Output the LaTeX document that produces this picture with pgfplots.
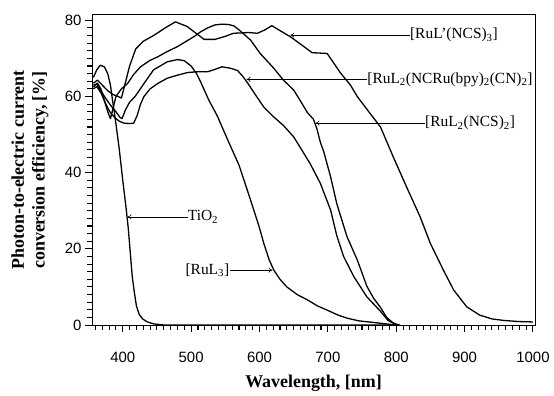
\documentclass[border=0pt]{standalone}
\usepackage{fontspec}
\setmainfont{Liberation Serif}
\newfontfamily\sansf{Liberation Sans}
\usepackage{pgfplots}
\pgfplotsset{compat=1.18}
\usetikzlibrary{arrows.meta}

\begin{document}
\begin{tikzpicture}
\begin{axis}[
  scale only axis, width=443bp, height=310bp,
  xmin=355, xmax=1003, ymin=0, ymax=81.4,
  xtick={400,500,...,1000}, ytick={0,20,...,80},
  tick align=outside, xtick pos=bottom, ytick pos=left,
  major tick length=7bp,
  every tick/.style={black, line width=1pt},
  axis line style={line width=1pt},
  ticklabel style={font=\sansf\fontsize{15}{15}\selectfont},
  xticklabel style={yshift=-17bp},
  /pgf/number format/assume math mode=true,
  /pgf/number format/1000 sep={},
  xlabel={Wavelength, [nm]},
  ylabel={Photon-to-electric current\\conversion efficiency, [\%]},
  xlabel style={font=\bfseries\fontsize{18}{21}\selectfont, at={([yshift=-58bp]axis description cs:0.5,0)}, anchor=center},
  ylabel style={font=\bfseries\fontsize{18}{21}\selectfont, align=center, at={([xshift=-62bp]axis description cs:0,0.5)}, anchor=center},
  clip=false,
  cycle list={{black, solid, no markers}},
  every axis plot/.append style={line width=1.3pt, line join=round},
]
% TiO2
\addplot coordinates {(357,65) (362,67) (367,68.2) (373,67.8) (378,66) (382,63) (385,59) (388,55.5) (391,51.5) (395,46) (400,38) (405,30.5) (408,25.5) (411,19) (414,12.5) (417,8.5) (420,5) (424,2.8) (429,1.6) (436,0.8) (445,0.3) (460,0) (800,0)};
% RuL3
\addplot coordinates {(357,63) (362,63.3) (368,61.5) (375,59.5) (383,57.5) (390,56) (396,54.5) (399,54.2) (404,56.5) (410,58.5) (418,60) (431,63.4) (445,67) (465,69.1) (480,69.7) (490,69.4) (500,68) (508,66) (514,63.8) (526,59) (538,55) (555,48) (570,42) (582,35.5) (592,30) (600,25.5) (606,21.6) (614,17.2) (621,14.4) (630,12) (640,10) (655,8) (670,6.6) (685,5) (699,3.9) (715,2.6) (728,1.8) (745,1.1) (760,0.8) (780,0.4) (800,0)};
% RuL2(NCRu(bpy)2(CN)2)
\addplot coordinates {(357,62) (362,62.6) (368,61) (374,58.5) (381,56) (388,54.5) (395,53.5) (402,53) (410,52.9) (416,53) (421,55) (426,58) (431,60) (440,62) (451,63.4) (465,64.8) (480,65.6) (495,66.3) (510,66.5) (524,66.5) (533,67) (545,67.8) (558,67.4) (568,66.8) (576,65.2) (584,63.2) (592,61) (606,57.3) (621,54.6) (635,52.4) (650,49.4) (660,46.5) (674,42.4) (689,37.2) (704,30.2) (713,23.5) (723,18) (738,12.7) (757,7.4) (767,5.5) (777,3.6) (788,1.2) (798,0.3) (805,0)};
% RuL2(NCS)2
\addplot coordinates {(357,62.5) (363,63.5) (368,62) (373,59) (378,56) (382,54.2) (386,57) (390,60) (398,62) (407,63.4) (416,65.8) (426,67.8) (440,69.5) (451,70.4) (465,71.8) (480,73.1) (492,74.4) (504,75.7) (514,77) (524,78) (535,78.8) (545,79) (555,78.9) (563,78.5) (572,77.2) (587,74.8) (601,71.3) (621,67.4) (635,64.3) (650,61.7) (660,58.8) (670,55.8) (679,54) (684,51.5) (689,48) (694,45.5) (704,38.9) (713,31.9) (728,23.2) (743,17.1) (757,10.2) (767,7) (777,4.6) (786,2) (795,0.6) (800,0.2)};
% RuL'(NCS)3
\addplot coordinates {(357,63.5) (363,64.3) (370,63) (378,61.5) (386,60.5) (393,60) (398,59.6) (403,63) (410,68) (419,72.5) (430,74.5) (445,76) (462,78) (477,79.6) (494,78.4) (508,76.5) (519,75) (535,75) (550,75.8) (562,76.6) (584,76.8) (597,76.6) (608,77.5) (618,78.6) (630,77.3) (645,75.7) (662,73.5) (677,71.5) (699,71.3) (718,66.3) (733,63) (743,60) (762,55.5) (777,52) (796,44) (815,36.3) (835,28.4) (850,21.4) (869,14.4) (884,9.2) (903,4.8) (922,2.6) (940,1.6) (957,1.2) (980,0.9) (1000,0.8)};

% minor ticks
\pgfplotsinvokeforeach{360,370,...,990}{
  \draw[black, line width=1.1pt] (axis cs:#1,0) -- ([yshift=-5bp]axis cs:#1,0);
}
\pgfplotsinvokeforeach{2,4,...,80}{
  \draw[black, line width=1.1pt] (axis cs:355,#1) -- ([xshift=-5bp]axis cs:355,#1);
}

% annotations
\begin{scope}[every node/.style={font=\fontsize{15.5}{16}\selectfont, inner sep=0pt}]
\draw[line width=0.6pt, -{To[length=4pt,width=5pt]}] (axis cs:820,76.1) -- (axis cs:645,76.1);
\node[anchor=west] at (axis cs:820,76.1) {[RuL'(NCS)\textsubscript{3}]};
\draw[line width=0.6pt, -{To[length=4pt,width=5pt]}] (axis cs:757.5,64.5) -- (axis cs:581,64.5);
\node[anchor=west] at (axis cs:757.5,64.5) {[RuL\textsubscript{2}(NCRu(bpy)\textsubscript{2}(CN)\textsubscript{2}]};
\draw[line width=0.6pt, -{To[length=4pt,width=5pt]}] (axis cs:842,53) -- (axis cs:682,53);
\node[anchor=west] at (axis cs:842,53) {[RuL\textsubscript{2}(NCS)\textsubscript{2}]};
\draw[line width=0.6pt, -{To[length=4pt,width=5pt]}] (axis cs:495,28.4) -- (axis cs:407,28.4);
\node[anchor=west] at (axis cs:495,28.4) {TiO\textsubscript{2}};
\draw[line width=0.6pt, -{To[length=4pt,width=5pt]}] (axis cs:557,14.4) -- (axis cs:619,14.4);
\node[anchor=east] at (axis cs:556,14.4) {[RuL\textsubscript{3}]};
\end{scope}
\coordinate (bl) at (rel axis cs:0,0);
\coordinate (tr) at (rel axis cs:1,1);
\end{axis}
\pgfresetboundingbox
\path ([xshift=-92bp,yshift=-71bp]bl) rectangle ([xshift=19bp,yshift=15bp]tr);
\end{tikzpicture}
\end{document}
